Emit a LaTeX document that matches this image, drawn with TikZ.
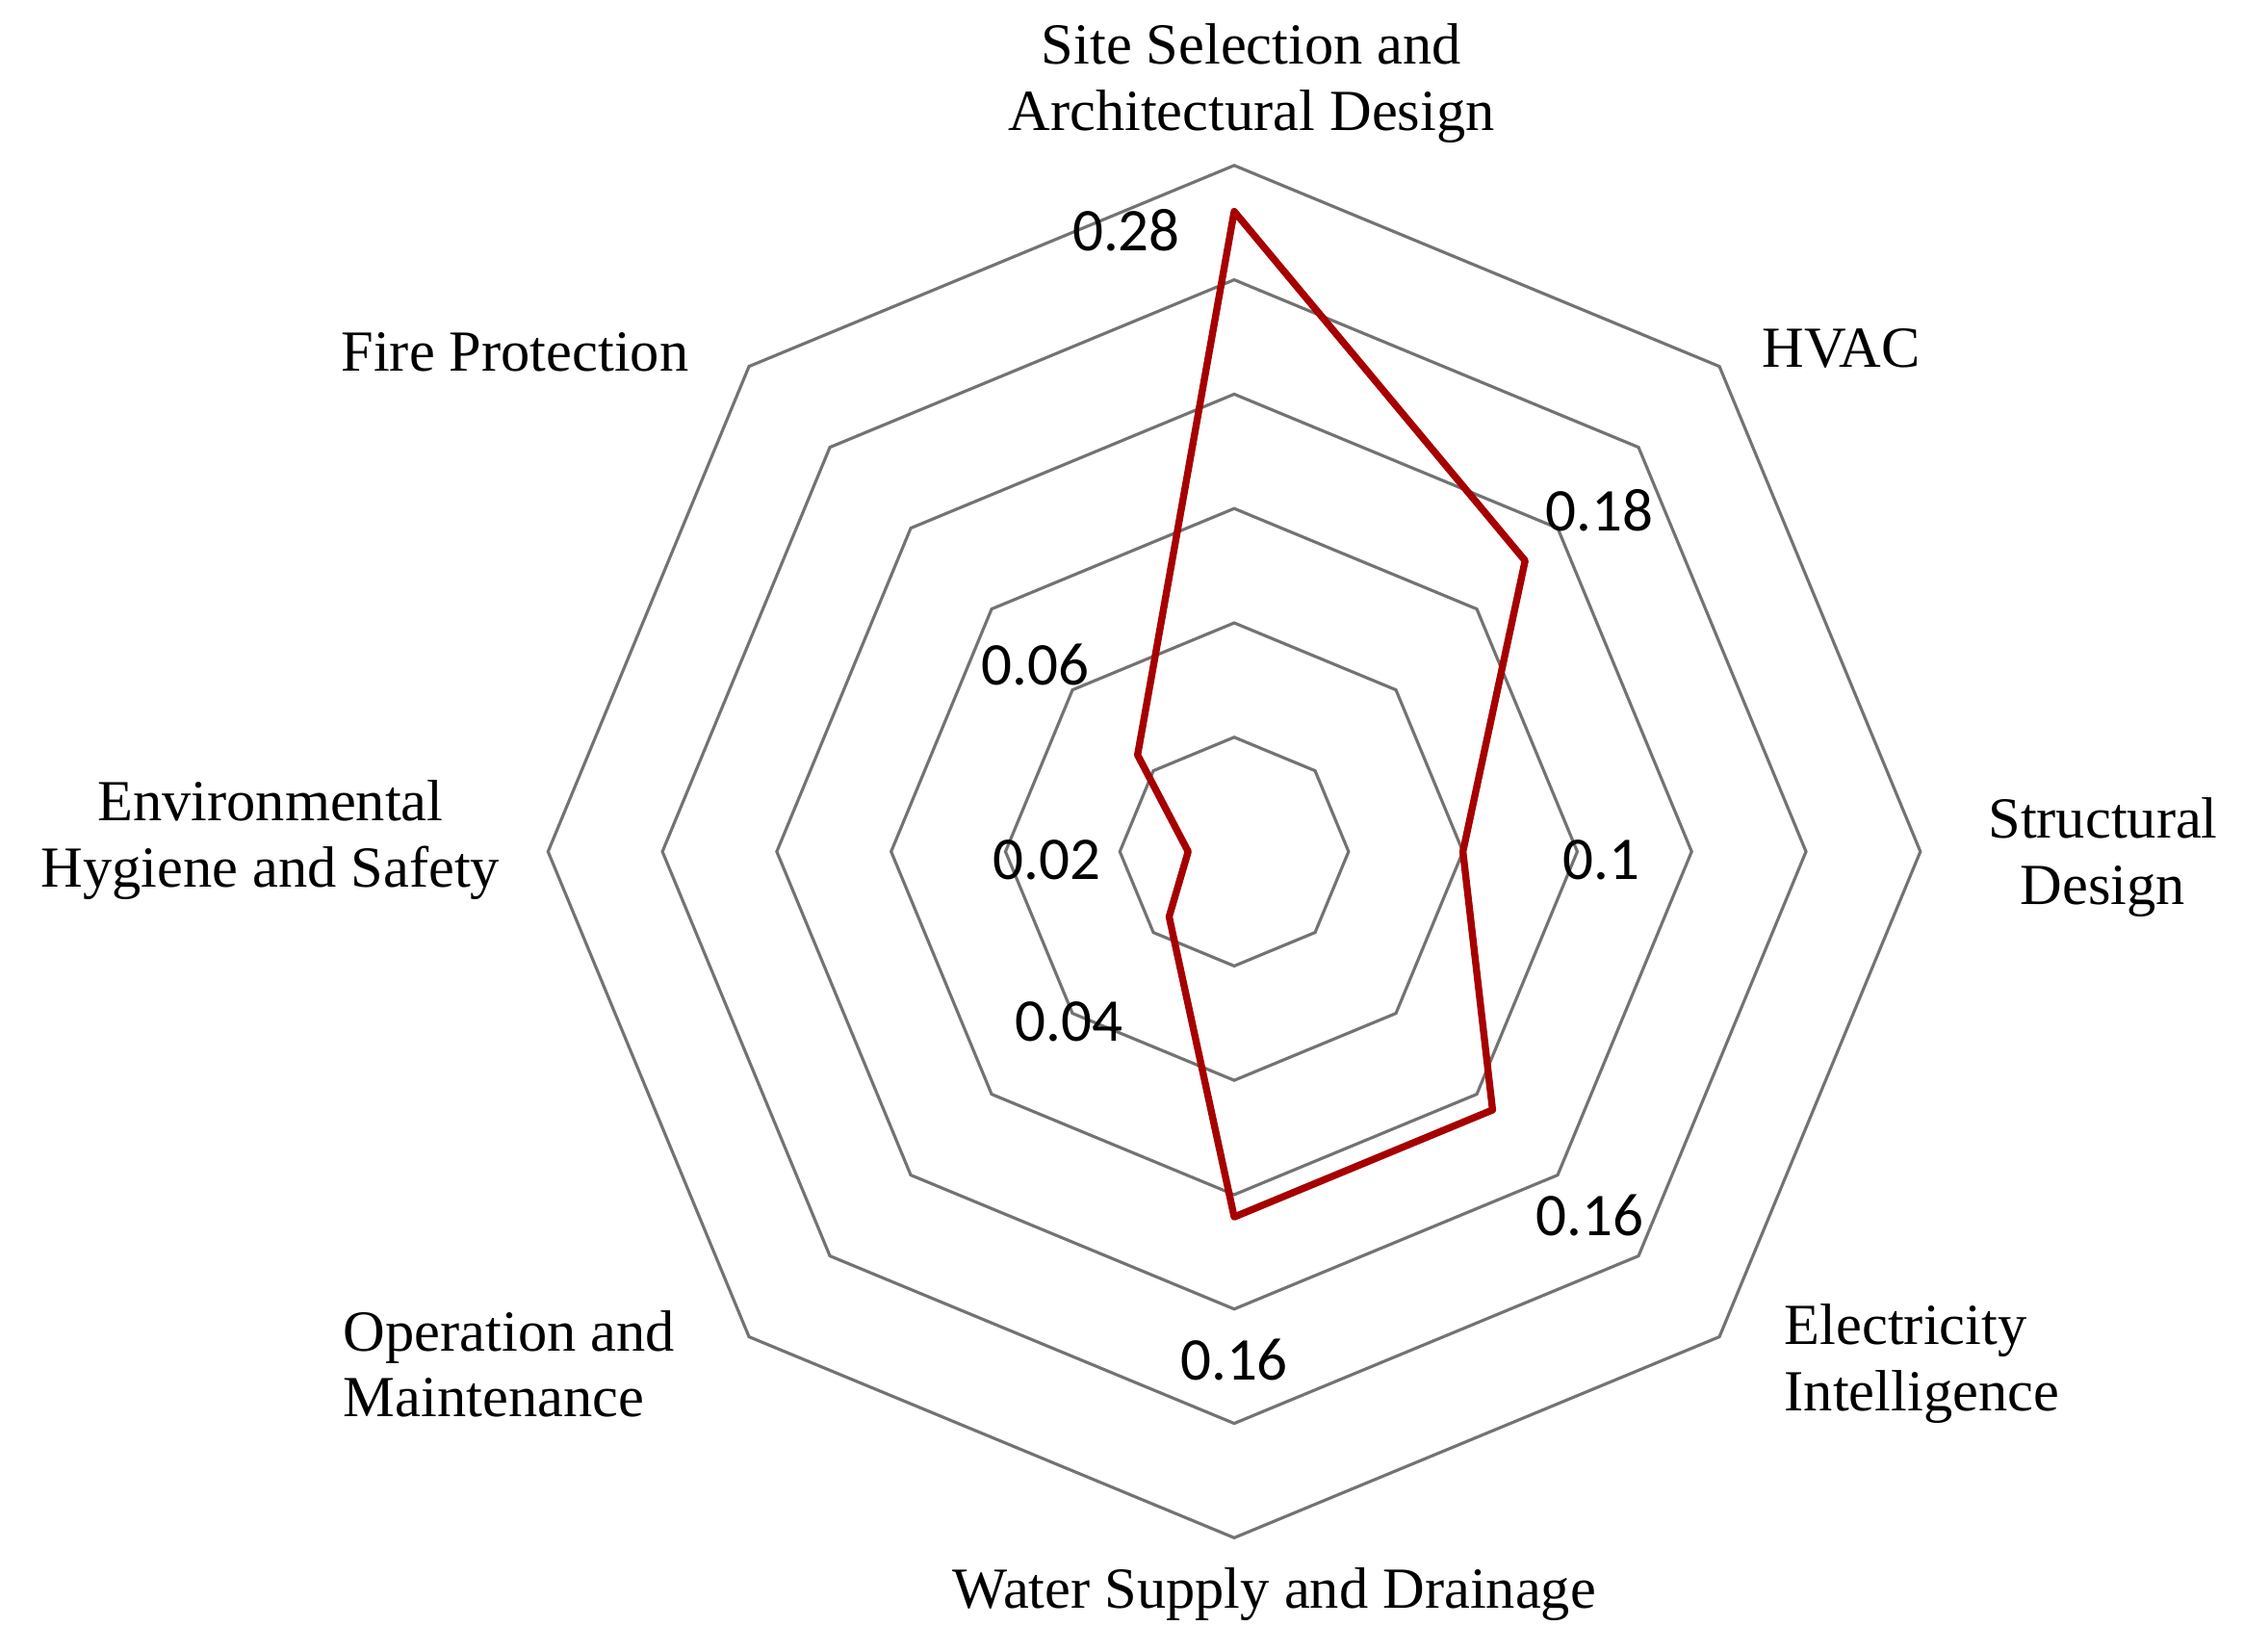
\documentclass[tikz,border=0pt]{standalone}
\usepackage{fontspec}
\setmainfont{Liberation Serif}
\newfontfamily\numfont{Carlito}
\usetikzlibrary{calc}
\tikzset{
  ring/.style={draw=black!55,line width=0.6pt},
  profile/.style={draw=red!65!black,line width=1.4pt,line join=round},
  axislabel/.style={font=\fontsize{11.5}{13}\selectfont,inner sep=0pt},
  valuelabel/.style={font=\numfont\fontsize{12}{13}\selectfont,inner sep=0pt}
}
\begin{document}
\begin{tikzpicture}[x=0.01cm,y=-0.01cm]
\useasboundingbox (0,0) rectangle (1560,1148);
\coordinate (centre) at (858,592);
% rings
\foreach \r in {79.5,159,238.5,318,397.5,477}{
  \draw[ring] ($(centre)+(90:\r)$) \foreach \a in {135,180,...,450}{ -- ($(centre)+(\a:\r)$)} -- cycle;
}
% profile, clockwise from the top (y axis points down)
\draw[profile] ($(centre)+(-90:445)$) -- ($(centre)+(-45:286)$) -- ($(centre)+(0:159)$)
  -- ($(centre)+(45:254)$) -- ($(centre)+(90:254)$) -- ($(centre)+(135:64)$)
  -- ($(centre)+(180:32)$) -- ($(centre)+(-135:95)$) -- cycle;
% axis labels
\node[axislabel,align=center] (site) at (870,58) {Site Selection and\\Architectural Design};
\node[axislabel] (hvac) at (1280,242) {HVAC};
\node[axislabel,align=center] (struct) at (1462,596) {Structural\\Design};
\node[axislabel,align=left] (elec) at (1336,948) {Electricity\\Intelligence};
\node[axislabel] (water) at (886,1108) {Water Supply and Drainage};
\node[axislabel,align=left] (oper) at (354,948) {Operation and\\Maintenance};
\node[axislabel,align=center] (env) at (188,584) {Environmental\\Hygiene and Safety};
\node[axislabel] (fire) at (358,245) {Fire Protection};
% values
\node[valuelabel] (vsite) at (783,160) {0.28};
\node[valuelabel] (vhvac) at (1112,355) {0.18};
\node[valuelabel] (vstruct) at (1113,598) {0.1};
\node[valuelabel] (velec) at (1105,845) {0.16};
\node[valuelabel] (vwater) at (858,945) {0.16};
\node[valuelabel] (voper) at (743,710) {0.04};
\node[valuelabel] (venv) at (728,598) {0.02};
\node[valuelabel] (vfire) at (720,462) {0.06};
\end{tikzpicture}
\end{document}
